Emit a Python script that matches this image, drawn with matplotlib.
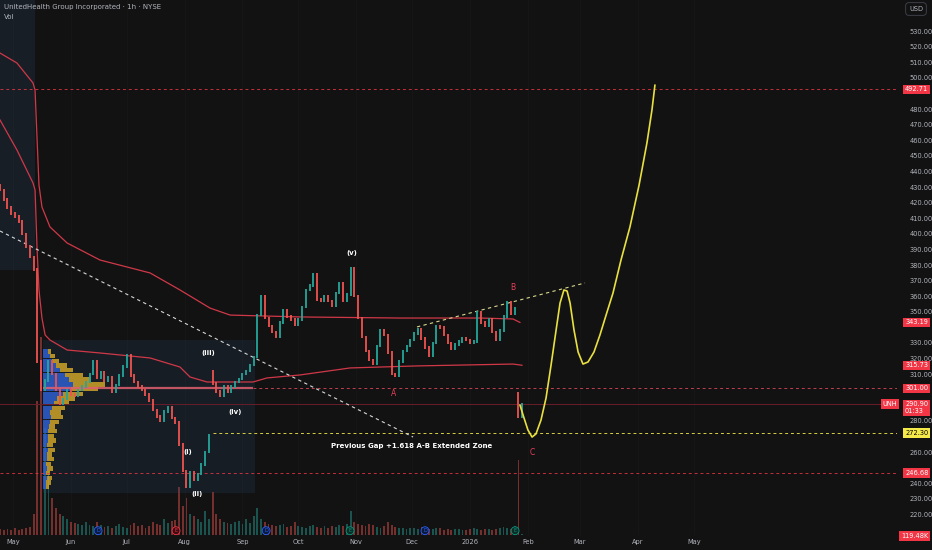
import matplotlib
matplotlib.use("Agg")
import matplotlib.pyplot as plt
from matplotlib.patches import Rectangle
import numpy as np

# x axis = days since 2025-05-01
# closes every 2 days, first one at day -7
start_day = -7
step = 2
closes = [428, 422, 417, 413, 411, 408, 400, 392, 385, 377,
          318, 300, 306, 318, 310, 300, 291, 294, 300, 297,
          296, 300, 302, 305, 310, 318, 308, 311, 306, 308,
          299, 303, 309, 315, 322, 309, 305, 302, 300, 297,
          293, 287, 283, 280, 286, 289, 282, 279, 265, 248,
          238, 247, 242, 246, 252, 260, 271, 304, 299, 296,
          302, 299, 302, 305, 307, 310, 312, 316, 321, 348,
          360, 346, 341, 337, 334, 343, 351, 347, 345, 342,
          345, 353, 364, 367, 374, 358, 357, 360, 357, 354,
          362, 368, 357, 361, 378, 360, 346, 334, 325, 319,
          317, 328, 338, 335, 324, 310, 309, 318, 325, 328,
          332, 336, 339, 333, 327, 322, 330, 341, 340, 335,
          330, 326, 329, 331, 333, 332, 330, 331, 350, 343,
          341, 345, 337, 332, 338, 347, 356, 349, 352, 283,
          290.9]
gap_opens = {0: 431, 57: 312, 139: 298}
volume = [1.2, 1.0, 1.1, 0.9, 1.3, 1.0, 1.2, 1.4, 1.5, 4.0,
          25, 37, 20, 12, 7, 5, 4, 3.5, 3, 2.5,
          2.2, 2.0, 1.8, 2.4, 1.9, 1.6, 2.5, 1.8, 1.5, 1.7,
          1.4, 1.6, 2.0, 1.5, 1.3, 1.8, 2.2, 1.6, 1.9, 1.4,
          1.6, 2.4, 2.0, 1.8, 3.0, 2.2, 2.6, 2.8, 9.0, 5.5,
          7.0, 4.0, 3.5, 3.0, 2.5, 4.5, 3.0, 8.0, 4.0, 3.0,
          2.5, 2.2, 2.0, 2.4, 2.6, 2.0, 3.0, 2.2, 3.5, 5.0,
          3.0, 2.4, 2.0, 1.8, 1.6, 1.8, 2.0, 1.5, 1.7, 2.4,
          1.6, 1.5, 1.4, 1.6, 1.8, 1.5, 1.3, 1.6, 1.4, 1.7,
          1.5, 1.8, 1.6, 2.0, 4.5, 2.5, 2.0, 1.8, 1.6, 2.0,
          1.8, 1.5, 1.4, 1.6, 2.4, 1.8, 1.5, 1.4, 1.3, 1.2,
          1.4, 1.3, 1.2, 1.5, 1.3, 1.1, 1.2, 1.4, 1.3, 1.0,
          1.1, 1.0, 1.2, 1.1, 0.9, 1.0, 1.1, 1.3, 1.2, 1.0,
          1.1, 1.2, 1.0, 1.1, 1.3, 1.5, 1.4, 1.2, 1.6, 14,
          0.12]

# anchored vwap curves (day, price)
vwap_hi_days = [-7, 2.1, 10.7, 11.8, 12.9, 13.9, 15.5, 19.8, 29.0, 46.6, 73.5, 89.5,
                105.6, 116.4, 153.9, 207.5, 250.4, 268.1, 271.8]
vwap_hi = [515.9, 509.5, 496.7, 492.2, 460.1, 431.3, 417.2, 404.4, 394.1, 383.2, 374.9,
           364.0, 352.4, 347.9, 346.7, 346.0, 346.0, 345.4, 343.19]
vwap_lo_days = [-7, 2.1, 10.7, 11.8, 12.9, 13.9, 15.5, 17.2, 19.8, 29.0, 46.6, 73.5, 89.5,
                94.9, 104.0, 128.7, 136.2, 153.9, 180.7, 216.6, 268.1, 272.9]
vwap_lo = [473.0, 453.7, 432.6, 428.1, 389.6, 364.0, 346.0, 335.1, 331.9, 325.5, 323.6,
           320.4, 314.6, 308.2, 305.0, 305.0, 307.6, 309.5, 314.0, 315.3, 316.5, 315.73]

# fixed range volume profile
vp_price = np.arange(237.5, 325, 3)
vp_total = [6, 8, 9, 7, 10, 8, 11, 9, 12, 10, 13, 11, 14, 12, 16, 20, 18, 22, 26, 32,
            40, 55, 62, 48, 40, 30, 24, 16, 12, 8]
vp_up = [3, 3, 4, 3, 4, 3, 4, 4, 5, 4, 5, 5, 5, 6, 7, 8, 7, 9, 11, 14,
         20, 28, 30, 26, 22, 17, 13, 9, 7, 5]

# projected path
proj_days = [271.8, 274.0, 276.1, 278.3, 280.4, 283.1, 285.8, 288.5, 291.2, 293.3, 295.4,
             297.1, 298.7, 300.8, 303.0, 305.6, 308.3, 311.5, 314.7, 318.0, 321.7, 326.0,
             330.8, 335.7, 339.9, 342.6, 344.2]
proj_price = [290.3, 281.9, 274.2, 269.7, 271.7, 280.6, 294.7, 315.9, 338.3, 355.6, 364.0,
              363.3, 355.6, 338.3, 324.2, 316.5, 317.8, 324.2, 335.1, 347.9, 362.0, 383.2,
              404.4, 431.3, 458.2, 479.4, 495.4]

month_days = [0, 31, 61, 92, 123, 153, 184, 214, 245, 276, 304, 335, 365]
month_labels = ["May", "Jun", "Jul", "Aug", "Sep", "Oct", "Nov", "Dec", "2026",
                "Feb", "Mar", "Apr", "May"]
price_ticks = list(range(220, 531, 10))
hidden_ticks = [490, 340, 300, 290, 270, 250]

waves = [("(i)", 93.8, 260.1), ("(ii)", 98.7, 233.2), ("(iii)", 104.6, 323.6),
         ("(iv)", 119.0, 285.8), ("(v)", 181.8, 387.7)]
abc = [("A", 203.8, 297.9), ("B", 268.1, 365.3), ("C", 278.3, 260.1)]
events = [("D", 45.6), ("E", 87.4), ("D", 135.7), ("E", 180.7), ("D", 220.9), ("E", 269.2)]

BG = "#121212"
UP = "#26a69a"
DN = "#ef5350"
RED = "#f23645"
GRAY = "#b2b5be"

fig = plt.figure(figsize=(9.32, 5.5), dpi=100, facecolor=BG)
ax = fig.add_axes([0, 15 / 550, 897 / 932, 535 / 550])
vax = ax.twinx()
ax.set_zorder(vax.get_zorder() + 1)
ax.patch.set_visible(False)
vax.set_facecolor(BG)

ax.set_xlim(-7, 474)
ax.set_ylim(206.9, 549.9)
vax.set_ylim(0, 100)

for a in (ax, vax):
    for s in a.spines.values():
        s.set_visible(False)
vax.set_yticks([])

for d in month_days:
    vax.axvline(d, color="#171717", lw=0.6, zorder=0)

# shaded boxes
ax.add_patch(Rectangle((-7, 376.8), 18.8, 175, fc="#2a4a6e", alpha=0.22, ec="none", zorder=0))
ax.add_patch(Rectangle((16.1, 233.8), 113.7, 98.1, fc="#2a4a6e", alpha=0.2, ec="none", zorder=0))

# volume
days = start_day + step * np.arange(len(closes))
opens = [gap_opens.get(i, closes[i - 1] if i else closes[0]) for i in range(len(closes))]
vcol = [UP if c >= o else DN for o, c in zip(opens, closes)]
vax.bar(days, volume, width=1.0, color=vcol, alpha=0.45, linewidth=0)

# volume profile
vp_scale = 1 / 1.865
vp_up_w = np.array(vp_up) * vp_scale
vp_dn_w = (np.array(vp_total) - np.array(vp_up)) * vp_scale
ax.barh(vp_price, vp_up_w, height=2.8, left=16.1, color="#2f63d8", alpha=0.8, linewidth=0, zorder=1)
ax.barh(vp_price, vp_dn_w, height=2.8, left=16.1 + vp_up_w, color="#e8b528", alpha=0.75,
        linewidth=0, zorder=1)

# horizontal levels
dash = (0, (3, 3))
ax.axhline(492.71, color=RED, lw=0.7, ls=dash, alpha=0.8, zorder=2)
ax.axhline(246.68, color=RED, lw=0.7, ls=dash, alpha=0.8, zorder=2)
ax.hlines(301, 16.1, 128.7, color="#e06070", lw=1.6, alpha=0.85, zorder=2)
ax.hlines(301, 128.7, 474, color="#c04050", lw=0.7, ls=dash, zorder=2)
ax.axhline(290.9, color="#6a1e2a", lw=0.7, zorder=2)
ax.hlines(272.3, 107.2, 474, color="#d8d040", lw=0.7, ls=dash, zorder=2)

# vwap curves
ax.plot(vwap_hi_days, vwap_hi, color="#d03848", lw=0.9, zorder=2)
ax.plot(vwap_lo_days, vwap_lo, color="#d03848", lw=0.9, zorder=2)

# trend lines
ax.plot([-7, 214.5], [401.8, 269.7], color="#d8d8d8", lw=0.8, ls=dash, zorder=2)
ax.plot([216.6, 306.7], [340.3, 368.5], color="#d8d890", lw=0.8, ls=dash, zorder=2)

# candles
ccol = [UP if c >= o else DN for o, c in zip(opens, closes)]
lo = np.minimum(opens, closes)
hi = np.maximum(opens, closes)
ax.vlines(days, lo - 0.8, hi + 0.8, colors=ccol, lw=1.3, zorder=3)

# projection
ax.plot(proj_days, proj_price, color="#e8e040", lw=1.2, zorder=4, solid_capstyle="round")

# labels
for txt, d, p in waves:
    ax.text(d, p, txt, color="white", fontsize=5, fontweight="bold", ha="center", va="center")
for txt, d, p in abc:
    ax.text(d, p, txt, color="#e8405a", fontsize=5.5, ha="center", va="center")
ax.text(213.9, 264.0, "Previous Gap +1.618 A-B Extended Zone", color="white", fontsize=5,
        fontweight="bold", ha="center", va="center")

for txt, d in events:
    if txt == "D":
        fc, ec = "#0c1a3c", "#2962ff"
    elif d < 100:
        fc, ec = "#3c0c14", RED
    else:
        fc, ec = "#0c2e26", "#089981"
    ax.annotate(txt, xy=(d, 0.008), xycoords=("data", "axes fraction"), ha="center", va="center",
                fontsize=3.5, color=ec, annotation_clip=False, zorder=5,
                bbox=dict(boxstyle="circle,pad=0.3", fc=fc, ec=ec, lw=0.6))

# axes ticks
ax.yaxis.tick_right()
ax.set_yticks(price_ticks)
ax.set_yticklabels(["" if v in hidden_ticks else f"{v:.2f}" for v in price_ticks])
ax.set_xticks(month_days)
ax.set_xticklabels(month_labels)
ax.tick_params(axis="y", length=0, pad=9, labelsize=4.8, labelcolor=GRAY)
ax.tick_params(axis="x", length=0, pad=3, labelsize=4.8, labelcolor=GRAY)


def price_tag(p, txt, fc=RED, tc="white", x=1.009):
    ax.annotate(txt, xy=(x, p), xycoords=("axes fraction", "data"), ha="left", va="center",
                fontsize=4.8, color=tc, annotation_clip=False, zorder=6,
                bbox=dict(boxstyle="square,pad=0.25", fc=fc, ec="none"))


price_tag(492.71, "492.71")
price_tag(343.19, "343.19")
price_tag(315.73, "315.73")
price_tag(301.0, "301.00")
price_tag(288.4, "290.90\n01:33")
price_tag(272.3, "272.30", fc="#f5e94a", tc="black")
price_tag(246.68, "246.68")
price_tag(290.9, "UNH", x=0.984)

fig.text(901 / 932, 1 - 536 / 550, "119.48K", fontsize=4.8, color="white", ha="left", va="center",
         bbox=dict(boxstyle="square,pad=0.25", fc=RED, ec="none"))
fig.text(916 / 932, 1 - 9 / 550, "USD", fontsize=4.8, color=GRAY, ha="center", va="center",
         bbox=dict(boxstyle="round,pad=0.5", fc=BG, ec="#434651", lw=0.6))
fig.text(4 / 932, 1 - 7 / 550, "UnitedHealth Group Incorporated \u00b7 1h \u00b7 NYSE", fontsize=5,
         color=GRAY, ha="left", va="center")
fig.text(4 / 932, 1 - 17 / 550, "Vol", fontsize=5, color=GRAY, ha="left", va="center")

fig.savefig("out.png", dpi=100, facecolor=BG)
